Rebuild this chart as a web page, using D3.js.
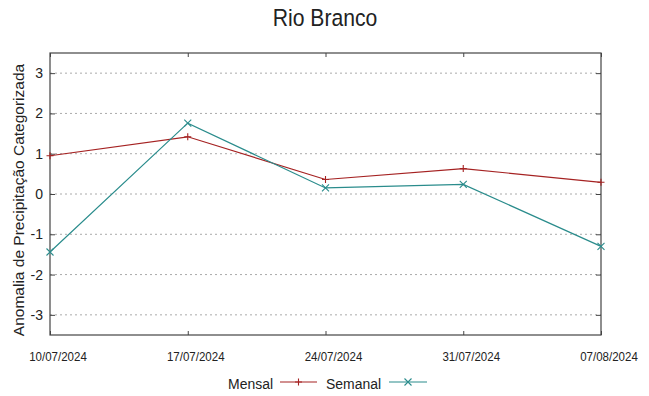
<!DOCTYPE html>
<html>
<head>
<meta charset="utf-8">
<script src="https://cdn.jsdelivr.net/npm/d3@7"></script>
<style>
  body { margin: 0; background: #fff; }
  text { font-family: "Liberation Sans", Arial, sans-serif; fill: #222; }
</style>
</head>
<body>
<svg id="chart" width="649" height="396"></svg>
<script>
// chart data
const dates = ['10/07/2024', '17/07/2024', '24/07/2024', '31/07/2024', '07/08/2024'];
const mensal = [0.95, 1.42, 0.36, 0.63, 0.29];
const semanal = [-1.44, 1.76, 0.15, 0.24, -1.30];
const yTicks = [-3, -2, -1, 0, 1, 2, 3];
const seriesNames = ['Mensal', 'Semanal'];
const colors = ['#a52222', '#2a8c8c'];

const margin = { top: 53, right: 48, bottom: 61, left: 50 };
const width = 649 - margin.left - margin.right;
const height = 396 - margin.top - margin.bottom;

const svg = d3.select('#chart');

// narrow-looking text: squeeze horizontally
function narrowText(parent, x, y, str, size, sx, anchor) {
    return parent.append('g')
        .attr('transform', `translate(${x},${y}) scale(${sx},1)`)
        .append('text')
        .attr('text-anchor', anchor || 'middle')
        .style('font-size', size + 'px')
        .text(str);
}

narrowText(svg, 325, 26, 'Rio Branco', 23.5, 0.9);

const g = svg.append('g').attr('transform', `translate(${margin.left},${margin.top})`);

const x = d3.scalePoint().domain(dates).range([0, width]);
const y = d3.scaleLinear().domain([-3.5, 3.5]).range([height, 0]);

// horizontal dotted grid
g.selectAll('.grid').data(yTicks).join('line')
    .attr('class', 'grid')
    .attr('x1', 0).attr('x2', width)
    .attr('y1', d => y(d)).attr('y2', d => y(d))
    .attr('stroke', '#aaa')
    .attr('stroke-dasharray', '2,3');

// y ticks (inward, both sides)
const yAxisL = g.append('g').call(d3.axisRight(y).tickValues(yTicks).tickSize(5).tickFormat(''));
const yAxisR = g.append('g').attr('transform', `translate(${width},0)`)
    .call(d3.axisLeft(y).tickValues(yTicks).tickSize(5).tickFormat(''));
// x ticks (inward, top and bottom)
const xAxisB = g.append('g').attr('transform', `translate(0,${height})`)
    .call(d3.axisTop(x).tickSize(4).tickFormat(''));
const xAxisT = g.append('g').call(d3.axisBottom(x).tickSize(4).tickFormat(''));
[yAxisL, yAxisR, xAxisB, xAxisT].forEach(a => {
    a.select('.domain').remove();
    a.selectAll('line').attr('stroke', '#444');
});

// y tick labels
g.selectAll('.ylab').data(yTicks).join('text')
    .attr('class', 'ylab')
    .attr('x', -7).attr('y', d => y(d) + 5)
    .attr('text-anchor', 'end')
    .style('font-size', '14px')
    .text(d => d);

// x tick labels
dates.forEach(d => narrowText(g, x(d) + 8, height + 26, d, 12, 0.96));

// border
g.append('rect')
    .attr('width', width).attr('height', height)
    .attr('fill', 'none').attr('stroke', '#444').attr('stroke-width', 1.2);

// y axis title
svg.append('text')
    .attr('transform', `translate(24,${margin.top + height / 2 + 6}) rotate(-90)`)
    .attr('text-anchor', 'middle')
    .style('font-size', '15.5px')
    .text('Anomalia de Precipitação Categorizada');

const line = d3.line().x((d, i) => x(dates[i])).y(d => y(d));

function plus(sel, s) {
    sel.append('path').attr('d', `M${-s},0H${s}M0,${-s}V${s}`);
}
function cross(sel, s) {
    sel.append('path').attr('d', `M${-s},${-s}L${s},${s}M${-s},${s}L${s},${-s}`);
}

[mensal, semanal].forEach((vals, k) => {
    g.append('path').datum(vals)
        .attr('d', line)
        .attr('fill', 'none')
        .attr('stroke', colors[k])
        .attr('stroke-width', 1.2);
    vals.forEach((v, i) => {
        const m = g.append('g')
            .attr('transform', `translate(${x(dates[i])},${y(v)})`)
            .attr('stroke', colors[k]).attr('stroke-width', 1.1);
        k === 0 ? plus(m, 3.5) : cross(m, 3.5);
    });
});

// legend
const legend = svg.append('g');
const legendItems = [
    { name: seriesNames[0], tx: 273, lx: [280, 317] },
    { name: seriesNames[1], tx: 381, lx: [389, 427] }
];
legendItems.forEach((it, k) => {
    narrowText(legend, it.tx, 389, it.name, 15.5, 0.9, 'end');
    legend.append('line')
        .attr('x1', it.lx[0]).attr('x2', it.lx[1])
        .attr('y1', 382).attr('y2', 382)
        .attr('stroke', colors[k]).attr('stroke-width', 1.2);
    const m = legend.append('g')
        .attr('transform', `translate(${(it.lx[0] + it.lx[1]) / 2},382)`)
        .attr('stroke', colors[k]).attr('stroke-width', 1.1);
    k === 0 ? plus(m, 3.5) : cross(m, 3.5);
});
</script>
</body>
</html>
